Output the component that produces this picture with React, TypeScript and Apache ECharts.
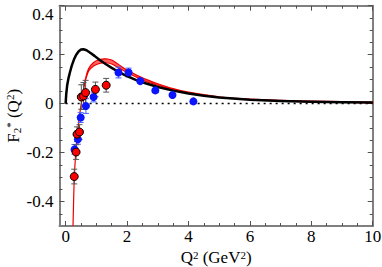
import React, { useEffect, useRef } from "react";
import * as echarts from "echarts";

// Axis ticks / labels
const X_MAJOR = [0, 2, 4, 6, 8, 10];
const X_MINOR = [0.5, 1, 1.5, 2.5, 3, 3.5, 4.5, 5, 5.5, 6.5, 7, 7.5, 8.5, 9, 9.5];
const Y_MAJOR = [-0.4, -0.2, 0, 0.2, 0.4];
const Y_MINOR = [-0.45, -0.35, -0.3, -0.25, -0.15, -0.1, -0.05, 0.05, 0.1, 0.15, 0.25, 0.3, 0.35];

// Black model curve
const BLACK_X = [0, 0.02, 0.05, 0.09, 0.14, 0.2, 0.27, 0.34, 0.42, 0.5, 0.58, 0.68, 0.8, 0.95, 1.1, 1.3, 1.5, 1.7, 2.0, 2.3, 2.6, 3.0, 3.5, 4.0, 4.5, 5, 6, 7, 8, 9, 10];
const BLACK_Y = [0, 0.04, 0.075, 0.102, 0.128, 0.155, 0.18, 0.199, 0.213, 0.221, 0.222, 0.218, 0.208, 0.194, 0.179, 0.162, 0.146, 0.131, 0.112, 0.096, 0.083, 0.068, 0.053, 0.041, 0.032, 0.025, 0.016, 0.011, 0.008, 0.006, 0.005];

// Red model band (centre and half-width)
const RED_X = [0.24, 0.28, 0.33, 0.39, 0.45, 0.51, 0.56, 0.6, 0.65, 0.75, 0.9, 1.1, 1.3, 1.5, 1.7, 2.0, 2.5, 3.0, 3.5, 4, 5, 6, 7, 8, 9, 10];
const RED_Y = [-0.5, -0.31, -0.2, -0.12, -0.05, 0.0, 0.04, 0.07, 0.1, 0.138, 0.16, 0.172, 0.175, 0.17, 0.155, 0.132, 0.101, 0.078, 0.059, 0.045, 0.027, 0.017, 0.012, 0.009, 0.007, 0.005];
const RED_HW = [0, 0, 0, 0, 0, 0, 0.002, 0.003, 0.004, 0.005, 0.007, 0.008, 0.008, 0.008, 0.007, 0.005, 0.004, 0.003, 0.002, 0.002, 0.001, 0.001, 0.001, 0.001, 0.001, 0.001];

// Red data points: x, y, error
const RED_PX = [0.28, 0.34, 0.37, 0.45, 0.51, 0.58, 0.65, 0.97, 1.32];
const RED_PY = [-0.298, -0.198, -0.125, -0.116, 0.027, 0.031, 0.045, 0.058, 0.075];
const RED_PE = [0.03, 0.03, 0.03, 0.03, 0.05, 0.055, 0.05, 0.03, 0.028];

// Blue data points: x, y, error
const BLUE_PX = [0.29, 0.4, 0.49, 0.66, 0.91, 1.72, 2.05, 2.43, 2.92, 3.48, 4.16];
const BLUE_PY = [-0.187, -0.146, -0.057, -0.01, 0.027, 0.127, 0.127, 0.092, 0.054, 0.035, 0.009];
const BLUE_PE = [0.02, 0.02, 0.02, 0.03, 0.02, 0.022, 0.018, 0.01, 0.008, 0.006, 0.005];

const FONT = "Liberation Serif";
const AXIS_COLOR = "#808080";
const TICK_COLOR = "#505050";

function errorSeries(xs: number[], ys: number[], es: number[], color: string) {
  return {
    type: "custom",
    z: 3,
    data: xs.map((x, i) => [x, ys[i], es[i]]),
    renderItem: (params: any, api: any) => {
      const x = api.value(0);
      const y = api.value(1);
      const e = api.value(2);
      const top = api.coord([x, y + e]);
      const bot = api.coord([x, y - e]);
      const cw = 3;
      const style = { stroke: color, lineWidth: 1 };
      return {
        type: "group",
        children: [
          { type: "line", shape: { x1: top[0], y1: top[1], x2: bot[0], y2: bot[1] }, style },
          { type: "line", shape: { x1: top[0] - cw, y1: top[1], x2: top[0] + cw, y2: top[1] }, style },
          { type: "line", shape: { x1: bot[0] - cw, y1: bot[1], x2: bot[0] + cw, y2: bot[1] }, style },
        ],
      };
    },
  };
}

function xAxisDef(pos: "bottom" | "top", major: boolean, withLabels: boolean) {
  return {
    type: "value",
    position: pos,
    min: -0.2,
    max: 10,
    splitLine: { show: false },
    axisLine: { show: major, onZero: false, lineStyle: { color: AXIS_COLOR, width: 2 } },
    axisTick: {
      show: true,
      inside: true,
      length: major ? 5 : 3,
      customValues: major ? X_MAJOR : X_MINOR,
      lineStyle: { color: TICK_COLOR, width: 1 },
    },
    axisLabel: withLabels
      ? { show: true, customValues: X_MAJOR, color: "#000", fontSize: 17, fontFamily: FONT, margin: 2, hideOverlap: false }
      : { show: false },
  };
}

function yAxisDef(pos: "left" | "right", major: boolean, withLabels: boolean) {
  return {
    type: "value",
    position: pos,
    min: -0.5,
    max: 0.4,
    splitLine: { show: false },
    axisLine: { show: major, onZero: false, lineStyle: { color: AXIS_COLOR, width: 2 } },
    axisTick: {
      show: true,
      inside: true,
      length: major ? 5 : 3,
      customValues: major ? Y_MAJOR : Y_MINOR,
      lineStyle: { color: TICK_COLOR, width: 1 },
    },
    axisLabel: withLabels
      ? {
          show: true,
          customValues: Y_MAJOR,
          color: "#000",
          fontSize: 17,
          fontFamily: FONT,
          margin: 6,
          verticalAlignMaxLabel: "top",
          formatter: (v: number) => String(Math.round(v * 10) / 10),
        }
      : { show: false },
  };
}

export default function App() {
  const ref = useRef<HTMLDivElement>(null);
  useEffect(() => {
    if (!ref.current) return;
    const chart = echarts.init(ref.current, undefined, { renderer: "svg" });

    const xb: any = xAxisDef("bottom", true, true);
    xb.name = "Q{sup|2} (GeV{sup|2})";
    xb.nameLocation = "middle";
    xb.nameGap = 23;
    xb.nameMoveOverlap = false;
    xb.nameTextStyle = {
      color: "#000",
      fontSize: 17,
      fontFamily: FONT,
      rich: {
        sup: { fontSize: 11, fontFamily: FONT, color: "#000", verticalAlign: "top", lineHeight: 11, padding: [0, 0, 7, 0] },
      },
    };

    const yl: any = yAxisDef("left", true, true);
    yl.name = "F{sub|2}{sup|*} (Q{sup|2})";
    yl.nameLocation = "middle";
    yl.nameGap = 37;
    yl.nameRotate = 90;
    yl.nameMoveOverlap = false;
    yl.nameTextStyle = {
      color: "#000",
      fontSize: 17,
      fontFamily: FONT,
      lineHeight: 18,
      rich: {
        sup: { fontSize: 11, fontFamily: FONT, color: "#000", verticalAlign: "top", lineHeight: 11, padding: [0, 0, 4, 0] },
        sub: { fontSize: 11, fontFamily: FONT, color: "#000", verticalAlign: "bottom", lineHeight: 11, padding: [4, 0, 0, 0] },
      },
    };

    const bandSeries = {
      type: "custom",
      z: 2,
      data: [[RED_X[0], RED_Y[0]]],
      renderItem: (params: any, api: any) => {
        const upper = RED_X.map((x, i) => api.coord([x, RED_Y[i] + RED_HW[i]]));
        const lower = RED_X.map((x, i) => api.coord([x, RED_Y[i] - RED_HW[i]])).reverse();
        return {
          type: "group",
          children: [
            { type: "polygon", shape: { points: upper.concat(lower), smooth: 0.3 }, style: { fill: "#ff6060", stroke: "#ee0000", lineWidth: 1.2 } },
          ],
        };
      },
    };

    chart.setOption({
      animation: false,
      grid: { left: 59.5, right: 9.3, top: 5.7, bottom: 41, containLabel: false, outerBoundsMode: "none" },
      xAxis: [xb, xAxisDef("bottom", false, false), xAxisDef("top", true, false), xAxisDef("top", false, false)],
      yAxis: [yl, yAxisDef("left", false, false), yAxisDef("right", true, false), yAxisDef("right", false, false)],
      series: [
        {
          type: "line",
          data: [[0, 0], [10, 0]],
          symbol: "none",
          z: 1,
          lineStyle: { color: "#000", width: 1.5, type: [2, 4] },
        },
        bandSeries,
        {
          type: "line",
          data: BLACK_X.map((x, i) => [x, BLACK_Y[i]]),
          symbol: "none",
          smooth: false,
          z: 4,
          lineStyle: { color: "#000", width: 2.5, join: "round" },
        },
        errorSeries(BLUE_PX, BLUE_PY, BLUE_PE, "#4060ff"),
        errorSeries(RED_PX, RED_PY, RED_PE, "#555555"),
        {
          type: "scatter",
          data: BLUE_PX.map((x, i) => [x, BLUE_PY[i]]),
          symbolSize: 8,
          z: 5,
          itemStyle: { color: "#0a14ff", opacity: 1 },
        },
        {
          type: "scatter",
          data: RED_PX.map((x, i) => [x, RED_PY[i]]),
          symbolSize: 8,
          z: 6,
          itemStyle: { color: "#ff0000", borderColor: "#000", borderWidth: 1, opacity: 1 },
        },
      ],
    });
    return () => chart.dispose();
  }, []);
  return <div ref={ref} style={{ width: 382, height: 267, position: "absolute", left: 0, top: 0 }} />;
}
